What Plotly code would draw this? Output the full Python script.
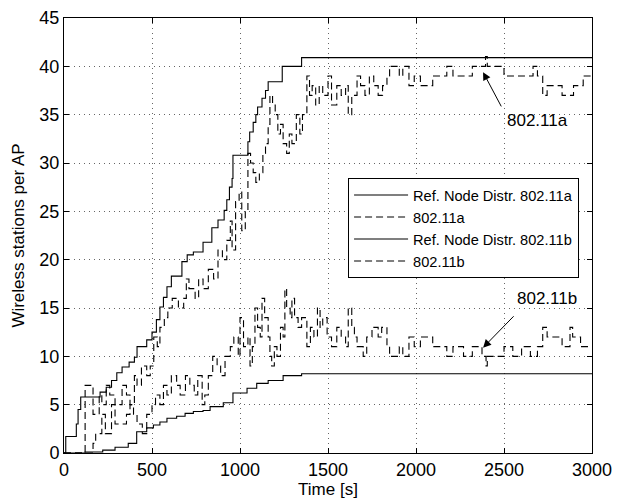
import plotly.graph_objects as go

# ---- data ----
ref_a_t = [0, 10, 70, 80, 95, 205, 240, 270, 300, 330, 370, 400, 415, 470, 500, 525, 545, 565, 585, 610,
           670, 700, 735, 790, 840, 875, 910, 925, 940, 955, 960, 1045, 1055, 1075, 1090, 1100, 1125, 1145,
           1160, 1240, 1350, 3000]
ref_a_v = [0, 1.7, 3.0, 4.5, 5.8, 6.3, 6.8, 7.5, 8.3, 8.9, 9.4, 9.9, 11.0, 11.7, 12.5, 13.8, 15.1, 16.1, 17.2,
           18.3, 19.8, 20.5, 20.8, 21.8, 23.3, 24.1, 25.1, 26.2, 27.5, 28.4, 30.8, 32.2, 33.2, 34.2, 35.0, 35.8,
           36.7, 37.5, 38.4, 40.0, 40.9, 40.9]

ref_b_t = [0, 120, 220, 290, 365, 413, 470, 508, 545, 585, 640, 688, 735, 790, 830, 905, 960, 1040, 1095,
           1160, 1245, 1350, 3000]
ref_b_v = [0, 0.1, 0.3, 0.6, 1.0, 2.2, 2.6, 2.9, 3.2, 3.6, 3.8, 4.1, 4.3, 4.4, 4.8, 5.2, 6.2, 6.7, 7.2,
           7.5, 8.0, 8.2, 8.2]

a_t = [0, 120, 165, 200, 215, 240, 260, 290, 330, 355, 375, 400, 415, 440, 470, 490, 510, 530, 545, 570,
       590, 615, 650, 680, 695, 710, 745, 765, 790, 820, 850, 875, 900, 925, 945, 955, 975, 995, 1010, 1030,
       1045, 1060, 1075, 1090, 1110, 1130, 1145, 1160, 1170, 1185, 1200, 1215, 1230, 1245, 1265, 1280, 1295,
       1320, 1340, 1355, 1380, 1395, 1410, 1430, 1450, 1470, 1500, 1520, 1550, 1575, 1600, 1615, 1635, 1665,
       1685, 1710, 1735, 1760, 1785, 1810, 1835, 1850, 1905, 1925, 1960, 1990, 2025, 2095, 2175, 2210, 2270,
       2320, 2395, 2405, 2440, 2500, 2550, 2590, 2665, 2690, 2720, 2745, 2780, 2830, 2875, 2895, 2940,
       2950, 3000]
a_v = [0, 7, 4, 6, 5, 7, 6, 5, 7, 6, 5, 8, 7, 9, 8, 9, 12, 11, 13, 14,
       15, 16, 15, 16, 18, 17, 16, 18, 17, 19, 18, 21, 20, 22, 24, 21, 26, 27, 23, 25,
       31, 30, 29, 28, 29, 31, 32, 34, 37, 36, 35, 33, 34, 32, 31, 33, 32,
       35, 33, 35, 39, 37, 38, 36, 38, 37, 39, 36, 38, 37, 38, 35, 37, 39,
       38, 37, 39, 38, 37, 38, 39, 40, 39, 40, 38, 39, 38, 39, 40, 39, 39,
       40, 41, 40, 40, 39, 39, 39, 40, 39, 37, 38, 38, 37, 37, 38, 38,
       39, 39]

b_t = [0, 165, 180, 215, 235, 270, 290, 340, 355, 375, 395, 415, 445, 470, 500, 520, 545, 565, 585,
       610, 640, 660, 690, 715, 740, 760, 785, 800, 820, 845, 870, 890, 915, 945, 965, 990, 1000, 1020,
       1045, 1057, 1070, 1085, 1100, 1115, 1125, 1140, 1160, 1170, 1180, 1195, 1210, 1230, 1245, 1255,
       1265, 1285, 1295, 1310, 1330, 1350, 1380, 1400, 1420, 1440, 1455, 1470, 1495, 1520, 1550, 1575,
       1600, 1615, 1635, 1650, 1665, 1700, 1720, 1750, 1785, 1805, 1835, 1850, 1905, 1925, 1960, 1990,
       2025, 2095, 2175, 2210, 2270, 2320, 2375, 2398, 2405, 2500, 2550, 2600, 2650, 2690, 2720, 2745,
       2780, 2830, 2875, 2890, 2935, 3000]
b_v = [0, 1, 2, 4, 2, 5, 3, 3, 4, 5, 4, 3, 2, 4, 5, 6, 5, 7, 6,
       8, 7, 6, 8, 7, 6, 8, 5, 6, 8, 10, 9, 8, 10, 11, 12, 10, 14, 11,
       12, 9, 11, 15, 13, 12, 16, 14, 12, 10, 9, 11, 10, 13, 12, 17,
       15, 14, 16, 14, 13, 14, 11, 13, 12, 15, 13, 14, 12, 11, 13, 12,
       11, 15, 13, 12, 11, 10, 12, 13, 12, 13, 11, 10, 11, 10, 12, 11,
       12, 11, 10, 11, 10, 11, 10, 9, 10, 11, 10, 11, 10, 11, 13, 12,
       12, 11, 13, 12, 11, 11]

x_ticks = [0, 500, 1000, 1500, 2000, 2500, 3000]
y_ticks = [0, 5, 10, 15, 20, 25, 30, 35, 40, 45]

FONT = "Liberation Sans, Arial, Helvetica, sans-serif"
DASH = "7px,4px"

fig = go.Figure()
fig.add_trace(go.Scatter(x=ref_a_t, y=ref_a_v, mode="lines", line=dict(color="black", width=1.1, shape="hv"),
                         name="Ref. Node Distr. 802.11a"))
fig.add_trace(go.Scatter(x=a_t, y=a_v, mode="lines", line=dict(color="black", width=1.1, shape="hv", dash=DASH),
                         name="802.11a"))
fig.add_trace(go.Scatter(x=ref_b_t, y=ref_b_v, mode="lines", line=dict(color="black", width=1.1, shape="hv"),
                         name="Ref. Node Distr. 802.11b"))
fig.add_trace(go.Scatter(x=b_t, y=b_v, mode="lines", line=dict(color="black", width=1.1, shape="hv", dash=DASH),
                         name="802.11b"))

axis_common = dict(showline=True, linecolor="black", linewidth=1, mirror="allticks", ticks="inside",
                   ticklen=5, tickcolor="black", showgrid=True, gridcolor="#666666", gridwidth=1,
                   griddash="1px,4px", zeroline=False, automargin=False,
                   tickfont=dict(size=18, color="black", family=FONT))

fig.update_xaxes(range=[0, 3000], tickvals=x_ticks, ticktext=[str(v) for v in x_ticks],
                 title=dict(text="Time [s]", font=dict(size=17, color="black", family=FONT), standoff=4),
                 **axis_common)
fig.update_yaxes(range=[0, 45], tickvals=y_ticks, ticktext=[str(v) for v in y_ticks],
                 title=dict(text="Wireless stations per AP", font=dict(size=17, color="black", family=FONT),
                            standoff=10),
                 **axis_common)

# arrows
fig.add_annotation(x=2381, y=39.4, ax=2489, ay=35.7, axref="x", ayref="y", text="", showarrow=True,
                   arrowhead=2, arrowsize=1.6, arrowwidth=1, arrowcolor="black")
fig.add_annotation(x=2505, y=35.6, text="802.11a", showarrow=False, xanchor="left", yanchor="top",
                   font=dict(size=17, color="black", family=FONT))
fig.add_annotation(x=2381, y=10.9, ax=2563, ay=14.3, axref="x", ayref="y", text="", showarrow=True,
                   arrowhead=2, arrowsize=1.6, arrowwidth=1, arrowcolor="black")
fig.add_annotation(x=2562, y=14.8, text="802.11b", showarrow=False, xanchor="left", yanchor="bottom",
                   font=dict(size=17, color="black", family=FONT))

fig.update_layout(
    width=619, height=503,
    margin=dict(l=64, r=27, t=18, b=50),
    paper_bgcolor="white", plot_bgcolor="white",
    font=dict(family=FONT, color="black"),
    showlegend=True,
    legend=dict(x=0.538, y=0.632, xanchor="left", yanchor="top", bgcolor="white", bordercolor="black",
                borderwidth=1, font=dict(size=14.6, color="black", family=FONT), tracegroupgap=0,
                itemwidth=54),
)

fig.write_html("out.html", config={"displayModeBar": False},
               post_script="document.body.style.margin='0';document.body.style.padding='0';")
